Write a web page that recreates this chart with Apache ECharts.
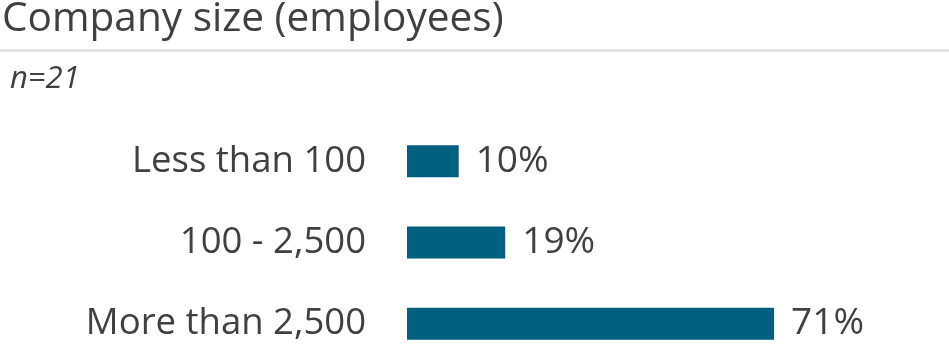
<!DOCTYPE html>
<html><head><meta charset="utf-8">
<script src="https://cdn.jsdelivr.net/npm/echarts@6/dist/echarts.min.js"></script>
<style>html,body{margin:0;padding:0;background:#fff}#c{width:949px;height:350px}</style>
</head><body><div id="c"></div>
<script>
const categories = ['Less than 100', '100 - 2,500', 'More than 2,500'];
const values = [10, 19, 71];
const titleText = 'Company size (employees)';
const subtitleText = 'n=21';

const chart = echarts.init(document.getElementById('c'));
chart.setOption({
  animation: false,
  backgroundColor: '#fff',
  graphic: [
    { type: 'text', left: 2, top: -1, style: { text: titleText, font: '40.6px "Open Sans"', fill: '#404040' } },
    { type: 'line', shape: { x1: 0, y1: 50.5, x2: 949, y2: 50.5 }, style: { stroke: '#d9d9d9', lineWidth: 2 } },
    { type: 'text', left: 10, top: 64, style: { text: subtitleText, font: 'italic 31px "Open Sans"', fill: '#404040' } }
  ],
  grid: { left: 407, top: 161.3, width: 517, height: 162.5, containLabel: false },
  xAxis: { type: 'value', min: 0, max: 100, show: false },
  yAxis: {
    type: 'category', data: categories, inverse: true, boundaryGap: false,
    axisLine: { show: false }, axisTick: { show: false }, splitLine: { show: false },
    axisLabel: { margin: 41, fontSize: 36.5, fontFamily: 'Open Sans', color: '#404040' }
  },
  series: [{
    type: 'bar', data: values, barWidth: 32,
    itemStyle: { color: '#00607f' },
    label: { show: true, position: 'right', distance: 17, formatter: '{c}%', fontSize: 37, fontFamily: 'Open Sans', color: '#404040' }
  }]
});
</script></body></html>
